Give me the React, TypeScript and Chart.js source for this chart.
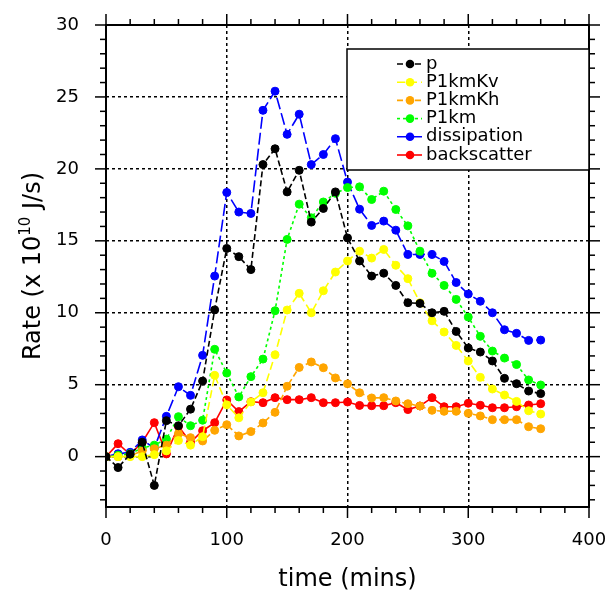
import React, { useEffect, useRef } from 'react';
import { Chart, registerables } from 'chart.js';

Chart.register(...registerables);

// ---- data ----
const timeMins = [0, 10, 20, 30, 40, 50, 60, 70, 80, 90, 100, 110, 120, 130, 140, 150, 160, 170, 180, 190, 200, 210, 220, 230, 240, 250, 260, 270, 280, 290, 300, 310, 320, 330, 340, 350, 360];

const pValues = [0, -0.76, 0.17, 1.0, -2.0, 2.5, 2.15, 3.3, 5.25, 10.2, 14.47, 13.9, 13.0, 20.3, 21.4, 18.4, 19.9, 16.3, 17.25, 18.4, 15.2, 13.6, 12.55, 12.75, 11.9, 10.7, 10.65, 10.0, 10.1, 8.7, 7.55, 7.27, 6.65, 5.44, 5.07, 4.56, 4.38];

const p1kmKvValues = [0, 0, 0, 0, 0.14, 0.4, 1.12, 0.8, 1.39, 5.65, 3.6, 2.7, 3.8, 4.44, 7.08, 10.19, 11.35, 10.0, 11.53, 12.83, 13.6, 14.28, 13.8, 14.4, 13.3, 12.37, 10.7, 9.44, 8.66, 7.73, 6.65, 5.51, 4.7, 4.28, 3.84, 3.19, 2.96];

const p1kmKhValues = [0, 0, 0.05, 0.4, 0.55, 0.8, 1.6, 1.32, 1.09, 1.83, 2.22, 1.44, 1.74, 2.34, 3.08, 4.89, 6.2, 6.58, 6.18, 5.47, 5.06, 4.44, 4.08, 4.1, 3.87, 3.68, 3.52, 3.22, 3.15, 3.15, 3.01, 2.83, 2.57, 2.57, 2.57, 2.08, 1.94];

const p1kmValues = [0, 0.1, 0.2, 0.6, 0.8, 1.22, 2.78, 2.15, 2.53, 7.46, 5.81, 4.15, 5.56, 6.78, 10.14, 15.1, 17.55, 16.6, 17.7, 18.3, 18.7, 18.75, 17.87, 18.45, 17.18, 16.04, 14.28, 12.74, 11.9, 10.93, 9.7, 8.36, 7.34, 6.85, 6.4, 5.33, 4.98];

const dissipationValues = [0, 0.2, 0.3, 1.16, 0.6, 2.8, 4.86, 4.26, 7.04, 12.55, 18.36, 17.0, 16.9, 24.07, 25.4, 22.4, 23.8, 20.3, 21.0, 22.1, 19.08, 17.2, 16.07, 16.37, 15.74, 14.05, 14.05, 14.05, 13.57, 12.1, 11.3, 10.8, 10.0, 8.82, 8.57, 8.08, 8.1];

const backscatterValues = [0, 0.9, 0.15, 1.0, 2.36, 0.19, 2.1, 1.0, 1.8, 2.36, 3.94, 3.13, 3.82, 3.75, 4.1, 3.96, 3.96, 4.1, 3.75, 3.75, 3.8, 3.56, 3.54, 3.54, 3.75, 3.27, 3.52, 4.1, 3.47, 3.47, 3.71, 3.57, 3.4, 3.4, 3.47, 3.59, 3.68];

const seriesLabels = ['p', 'P1kmKv', 'P1kmKh', 'P1km', 'dissipation', 'backscatter'];
const xTickValues = [0, 100, 200, 300, 400];
const yTickValues = [0, 5, 10, 15, 20, 25, 30];

// ---- styles ----
const FONT = '"DejaVu Sans", sans-serif';
const seriesStyles = [
  { color: '#000000', dash: [6, 3] },
  { color: '#ffff00', dash: [8, 4] },
  { color: '#ffa500', dash: [6, 3] },
  { color: '#00ff00', dash: [3, 3] },
  { color: '#0000ff', dash: [12, 4] },
  { color: '#ff0000', dash: [] as number[] },
];

const nclPlugin = {
  id: 'nclFrame',
  afterDraw(chart: any) {
    const { ctx, chartArea: a, scales } = chart;
    const xs = scales.x;
    const ys = scales.y;
    const line = (x1: number, y1: number, x2: number, y2: number) => {
      ctx.beginPath();
      ctx.moveTo(x1, y1);
      ctx.lineTo(x2, y2);
      ctx.stroke();
    };
    ctx.save();
    ctx.setLineDash([]);
    ctx.strokeStyle = '#000';
    ctx.lineWidth = 2;
    ctx.strokeRect(a.left, a.top, a.right - a.left, a.bottom - a.top);
    ctx.lineWidth = 1.5;
    for (let v = 0; v <= 400; v += 20) {
      const px = xs.getPixelForValue(v);
      const len = v % 100 === 0 ? 11 : 6;
      line(px, a.bottom, px, a.bottom + len);
      line(px, a.top, px, a.top - len);
    }
    for (let v = -3; v <= 30; v += 1) {
      const py = ys.getPixelForValue(v);
      const len = v % 5 === 0 ? 11 : 6;
      line(a.left, py, a.left - len, py);
      line(a.right, py, a.right + len, py);
    }

    // x title
    ctx.fillStyle = '#000';
    ctx.font = `24px ${FONT}`;
    ctx.textAlign = 'center';
    ctx.textBaseline = 'alphabetic';
    ctx.fillText('time (mins)', (a.left + a.right) / 2, 586);

    // y title with superscript
    ctx.save();
    ctx.translate(40, 266);
    ctx.rotate(-Math.PI / 2);
    ctx.textAlign = 'left';
    const partA = 'Rate (x 10';
    const sup = '10';
    const partB = ' J/s)';
    ctx.font = `24px ${FONT}`;
    const wA = ctx.measureText(partA).width;
    const wB = ctx.measureText(partB).width;
    ctx.font = `15px ${FONT}`;
    const wS = ctx.measureText(sup).width;
    const total = wA + wS + wB;
    let cx = -total / 2;
    ctx.font = `24px ${FONT}`;
    ctx.fillText(partA, cx, 0);
    cx += wA;
    ctx.font = `15px ${FONT}`;
    ctx.fillText(sup, cx, -10);
    cx += wS;
    ctx.font = `24px ${FONT}`;
    ctx.fillText(partB, cx, 0);
    ctx.restore();

    // legend
    const bx = 347, by = 49, bw = a.right - 347, bh = 121;
    ctx.fillStyle = '#fff';
    ctx.fillRect(bx, by, bw, bh);
    ctx.lineWidth = 1.5;
    ctx.strokeStyle = '#000';
    ctx.strokeRect(bx, by, bw, bh);
    chart.data.datasets.forEach((ds: any, i: number) => {
      const yy = 64 + i * 18.2;
      ctx.strokeStyle = ds.borderColor;
      ctx.lineWidth = 1.6;
      ctx.setLineDash(ds.borderDash || []);
      line(397, yy, 422, yy);
      ctx.setLineDash([]);
      ctx.fillStyle = ds.borderColor;
      ctx.beginPath();
      ctx.arc(410, yy, 4.3, 0, Math.PI * 2);
      ctx.fill();
      ctx.fillStyle = '#000';
      ctx.font = `18px ${FONT}`;
      ctx.textAlign = 'left';
      ctx.textBaseline = 'middle';
      ctx.fillText(ds.label, 426, yy);
    });
    ctx.restore();
  },
};

export default function App() {
  const ref = useRef<HTMLCanvasElement>(null);
  useEffect(() => {
    const canvas = ref.current;
    if (!canvas) return;
    const allValues = [pValues, p1kmKvValues, p1kmKhValues, p1kmValues, dissipationValues, backscatterValues];
    const gridColor = (lo: number, hi: number) => (c: any) =>
      c.tick && c.tick.value > lo && c.tick.value < hi ? '#000' : 'rgba(0,0,0,0)';
    const chart = new Chart(canvas, {
      type: 'line',
      data: {
        datasets: allValues.map((vals, i) => ({
          label: seriesLabels[i],
          data: timeMins.map((t, j) => ({ x: t, y: vals[j] })),
          borderColor: seriesStyles[i].color,
          backgroundColor: seriesStyles[i].color,
          pointBackgroundColor: seriesStyles[i].color,
          pointBorderColor: seriesStyles[i].color,
          borderDash: seriesStyles[i].dash,
          borderWidth: 1.6,
          pointRadius: 4,
          pointBorderWidth: 1,
          tension: 0,
          fill: false,
        })),
      },
      options: {
        responsive: false,
        animation: false,
        layout: { padding: { top: 25, right: 19, left: 0, bottom: 0 } },
        plugins: {
          legend: { display: false },
          tooltip: { enabled: false },
          title: { display: false },
        },
        scales: {
          x: {
            type: 'linear',
            min: 0,
            max: 400,
            afterBuildTicks: (s: any) => {
              s.ticks = xTickValues.map((v) => ({ value: v }));
            },
            afterFit: (s: any) => {
              s.height = 86;
              s.paddingLeft = 0;
              s.paddingRight = 0;
            },
            grid: { color: gridColor(0, 400), lineWidth: 1.5, drawTicks: false },
            border: { display: false, dash: [3, 3] },
            ticks: { color: '#000', font: { family: FONT, size: 18 }, padding: 23, maxRotation: 0, autoSkip: false },
          },
          y: {
            type: 'linear',
            min: -3.5,
            max: 30,
            afterBuildTicks: (s: any) => {
              s.ticks = yTickValues.map((v) => ({ value: v }));
            },
            afterFit: (s: any) => {
              s.width = 106;
              s.paddingTop = 0;
              s.paddingBottom = 0;
            },
            grid: { color: gridColor(-3.5, 30), lineWidth: 1.5, drawTicks: false },
            border: { display: false, dash: [3, 3] },
            ticks: { color: '#000', font: { family: FONT, size: 18 }, padding: 27, autoSkip: false },
          },
        },
      },
      plugins: [nclPlugin],
    } as any);
    return () => chart.destroy();
  }, []);
  return (
    <div style={{ position: 'absolute', left: 0, top: 0, width: 608, height: 593, background: '#fff' }}>
      <canvas ref={ref} width={608} height={593} style={{ display: 'block' }} />
    </div>
  );
}
